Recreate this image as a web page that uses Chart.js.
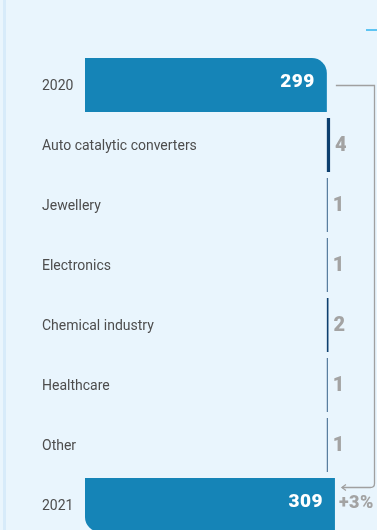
<!DOCTYPE html>
<html>
<head>
<meta charset="utf-8">
<script src="https://cdn.jsdelivr.net/npm/chart.js@4/dist/chart.umd.min.js"></script>
<style>
  html, body { margin: 0; padding: 0; width: 377px; height: 530px; overflow: hidden; background: #e9f5fd; }
  #wrap { position: absolute; left: 0; top: 0; width: 377px; height: 545px; }
  .edge { position: absolute; left: 3px; top: 0; width: 3px; height: 530px; background: #d7ebfa; }
  .tick { position: absolute; left: 366px; top: 29px; width: 11px; height: 2px; background: #5ec4f2; }
</style>
</head>
<body>
<div class="edge"></div>
<div class="tick"></div>
<div id="wrap"><canvas id="c" width="377" height="545"></canvas></div>
<script>
// Platinum demand bridge, 2020 to 2021
const categories = ['2020', 'Auto catalytic converters', 'Jewellery', 'Electronics', 'Chemical industry', 'Healthcare', 'Other', '2021'];
const startTotal = 299;
const endTotal = 309;
const changes = [4, 1, 1, 2, 1, 1];

const totalColor = '#1584b7';
const changeColor = '#0d3f6e';
const valueGrey = '#a3a3a3';

// floating bars: totals from zero, each change from the 2020 level
const barData = [[0, startTotal]]
  .concat(changes.map(v => [startTotal, startTotal + v]))
  .concat([[0, endTotal]]);
const lastIndex = barData.length - 1;

const labelPlugin = {
  id: 'bridgeLabels',
  afterDatasetsDraw(chart) {
    const ctx = chart.ctx;
    const meta = chart.getDatasetMeta(0);
    const xs = chart.scales.x;
    const ys = chart.scales.y;
    ctx.save();

    // category names, left aligned and free to run across the plot
    ctx.font = '14px Roboto';
    ctx.fillStyle = '#4d4d4d';
    ctx.textAlign = 'left';
    ctx.textBaseline = 'middle';
    categories.forEach((name, i) => {
      ctx.fillText(name, ys.left, ys.getPixelForTick(i) + 1.5);
    });

    ctx.letterSpacing = '0.5px';
    meta.data.forEach((bar, i) => {
      const isTotal = i === 0 || i === lastIndex;
      ctx.font = '900 19px Roboto';
      ctx.textBaseline = 'middle';
      if (isTotal) {
        const val = i === 0 ? startTotal : endTotal;
        ctx.fillStyle = '#ffffff';
        ctx.textAlign = 'right';
        ctx.fillText(String(val), bar.x - 12, bar.y - 2.5);
      } else {
        ctx.font = '900 20px Roboto';
        ctx.fillStyle = valueGrey;
        ctx.textAlign = 'left';
        ctx.fillText(String(changes[i - 1]), bar.x + 5, bar.y + 0.5);
      }
    });

    // growth label next to the 2021 bar
    const last = meta.data[lastIndex];
    const pct = Math.round((endTotal - startTotal) / startTotal * 100);
    ctx.font = '900 18px Roboto';
    ctx.fillStyle = valueGrey;
    ctx.textAlign = 'left';
    ctx.textBaseline = 'middle';
    ctx.fillText('+' + pct + '%', last.x + 4, last.y - 1.5);
    ctx.letterSpacing = '0px';

    // connector from the 2020 bar to the 2021 bar
    const first = meta.data[0];
    const x0 = xs.getPixelForValue(startTotal) + 9;
    const y0 = Math.round(first.y) + 0.5;
    const xr = chart.width - 2.5;
    const yb = Math.round(last.y - 18) + 0.5;
    const xe = last.x + 7;
    const r = 4;
    ctx.strokeStyle = '#a0a0a0';
    ctx.lineWidth = 1.3;
    ctx.beginPath();
    ctx.moveTo(x0, y0);
    ctx.lineTo(xr, y0);
    ctx.lineTo(xr, yb - r);
    ctx.quadraticCurveTo(xr, yb, xr - r, yb);
    ctx.lineTo(xe, yb);
    ctx.stroke();
    ctx.beginPath();
    ctx.moveTo(xe + 4, yb - 3);
    ctx.lineTo(xe, yb);
    ctx.lineTo(xe + 4, yb + 3);
    ctx.stroke();
    ctx.restore();
  }
};

new Chart(document.getElementById('c'), {
  type: 'bar',
  data: {
    labels: categories,
    datasets: [{
      data: barData,
      backgroundColor: barData.map((d, i) => (i === 0 || i === lastIndex) ? totalColor : changeColor),
      borderSkipped: false,
      borderWidth: 0,
      borderRadius: ctx => {
        if (ctx.dataIndex === 0) return { topLeft: 0, topRight: 15, bottomLeft: 0, bottomRight: 0 };
        if (ctx.dataIndex === lastIndex) return { topLeft: 0, topRight: 0, bottomLeft: 15, bottomRight: 0 };
        return 0;
      },
      barPercentage: 0.9,
      categoryPercentage: 1
    }]
  },
  options: {
    indexAxis: 'y',
    responsive: false,
    animation: false,
    layout: { padding: { left: 42, right: 0, top: 55, bottom: 10 } },
    plugins: { legend: { display: false }, tooltip: { enabled: false } },
    scales: {
      x: { display: false, min: 0, max: 361 },
      y: {
        afterFit(scale) { scale.width = 43; },
        grid: { display: false },
        border: { display: false },
        ticks: { display: false }
      }
    }
  },
  plugins: [labelPlugin]
});
</script>
</body>
</html>
